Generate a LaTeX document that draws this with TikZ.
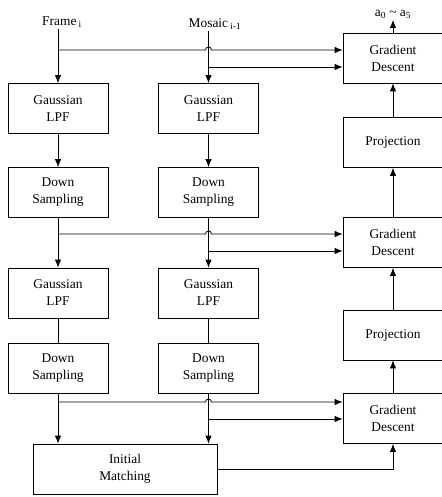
\documentclass[tikz,border=0pt]{standalone}
\usepackage{fontspec}
\setmainfont{Liberation Serif}
\usetikzlibrary{arrows.meta}
\begin{document}
\begin{tikzpicture}[x=1pt,y=-1pt,
  every node/.style={font=\fontsize{13.4}{17}\selectfont},
  blk/.style={draw,line width=0.8pt,minimum width=100pt,minimum height=50pt,align=center,inner sep=0pt},
  lbl/.style={inner sep=1pt},
  arr/.style={line width=0.8pt,-{Latex[length=8pt,width=6.5pt]}},
  ln/.style={line width=0.8pt}]
\useasboundingbox (0,0) rectangle (441,497);
% labels
\node[lbl] (frame) at (62,22) {Frame\,\textsubscript{i}};
\node[lbl] (mosaic) at (215,24) {Mosaic\,\textsubscript{i-1}};
\node[lbl,anchor=south] (out) at (393,20) {a\textsubscript{0} \textasciitilde{} a\textsubscript{5}};
% left and middle columns
\node[blk] (lpfa) at (58,108.5) {Gaussian\\LPF};
\node[blk] (dsa) at (58,192.5) {Down\\Sampling};
\node[blk] (lpfb) at (58,293) {Gaussian\\LPF};
\node[blk] (dsb) at (58,368) {Down\\Sampling};
\node[blk] (mlpfa) at (208.5,108.5) {Gaussian\\LPF};
\node[blk] (mdsa) at (208.5,192.5) {Down\\Sampling};
\node[blk] (mlpfb) at (208.5,293) {Gaussian\\LPF};
\node[blk] (mdsb) at (208.5,368) {Down\\Sampling};
\node[blk,minimum width=184pt] (im) at (125,469) {Initial\\Matching};
% right column
\node[blk] (gda) at (393,58) {Gradient\\Descent};
\node[blk] (proja) at (393,142.5) {Projection};
\node[blk] (gdb) at (393,242.5) {Gradient\\Descent};
\node[blk] (projb) at (393,335) {Projection};
\node[blk] (gdc) at (393,418.5) {Gradient\\Descent};
% vertical flows
\draw[arr] (frame.south -| lpfa.north) -- (lpfa.north);
\draw[arr] (mosaic.south -| mlpfa.north) -- (mlpfa.north);
\draw[arr] (lpfa) -- (dsa);
\draw[arr] (mlpfa) -- (mdsa);
\draw[arr] (dsa) -- (lpfb);
\draw[arr] (mdsa) -- (mlpfb);
\draw[ln] (lpfb) -- (dsb);
\draw[ln] (mlpfb) -- (mdsb);
\draw[arr] (dsb.south) -- (dsb.south |- im.north);
\draw[arr] (mdsb.south) -- (mdsb.south |- im.north);
\draw[arr] (gda) -- (out);
\draw[arr] (proja) -- (gda);
\draw[arr] (gdb) -- (proja);
\draw[arr] (projb) -- (gdb);
\draw[arr] (gdc) -- (projb);
\draw[arr] (im.east) -| (gdc.south);
% horizontal feeds with hops
\coordinate (fa) at (58,50);
\coordinate (ma) at (208.5,67);
\draw[arr] (fa) -- (205.5,50) arc[start angle=180,end angle=0,radius=3pt] -- (fa -| gda.west);
\draw[arr] (ma) -- (ma -| gda.west);
\coordinate (fb) at (58,234);
\coordinate (mb) at (208.5,251);
\draw[arr] (fb) -- (205.5,234) arc[start angle=180,end angle=0,radius=3pt] -- (fb -| gdb.west);
\draw[arr] (mb) -- (mb -| gdb.west);
\coordinate (fc) at (58,402);
\coordinate (mc) at (208.5,419);
\draw[arr] (fc) -- (205.5,402) arc[start angle=180,end angle=0,radius=3pt] -- (fc -| gdc.west);
\draw[arr] (mc) -- (mc -| gdc.west);
\end{tikzpicture}
\end{document}
